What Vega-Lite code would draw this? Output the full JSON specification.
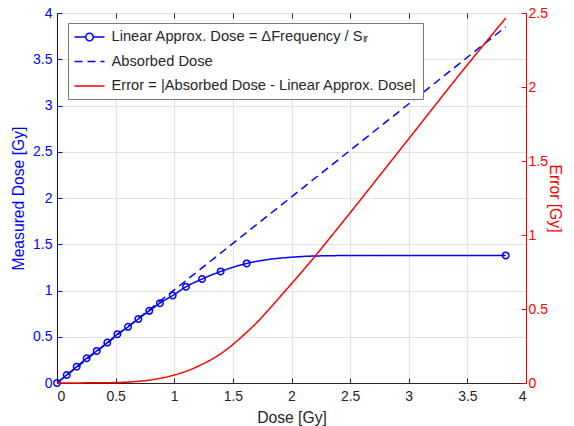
{
  "$schema": "https://vega.github.io/schema/vega-lite/v6.json",
  "width": 469,
  "height": 370,
  "autosize": {"type": "none"},
  "padding": {"left": 57, "top": 13, "right": 48, "bottom": 43},
  "background": "white",
  "config": {
    "font": "Liberation Sans",
    "view": {"stroke": "#8c8c8c", "strokeWidth": 1},
    "axis": {
      "gridColor": "#e2e2e2",
      "gridOpacity": 1,
      "labelFont": "Liberation Sans",
      "labelFontSize": 14,
      "titleFont": "Liberation Sans",
      "titleFontSize": 15.7,
      "titleFontWeight": "normal",
      "tickSize": -5,
      "domainWidth": 1,
      "labelPadding": 10
    }
  },
  "datasets": {
    "approx_line": [
      {"x": 0, "y": 0, "s": "approx"},
      {"x": 0.083, "y": 0.087, "s": "approx"},
      {"x": 0.168, "y": 0.177, "s": "approx"},
      {"x": 0.253, "y": 0.268, "s": "approx"},
      {"x": 0.339, "y": 0.347, "s": "approx"},
      {"x": 0.429, "y": 0.437, "s": "approx"},
      {"x": 0.515, "y": 0.528, "s": "approx"},
      {"x": 0.606, "y": 0.607, "s": "approx"},
      {"x": 0.694, "y": 0.693, "s": "approx"},
      {"x": 0.787, "y": 0.78, "s": "approx"},
      {"x": 0.878, "y": 0.863, "s": "approx"},
      {"x": 0.987, "y": 0.946, "s": "approx"},
      {"x": 1.1, "y": 1.04, "s": "approx"},
      {"x": 1.237, "y": 1.124, "s": "approx"},
      {"x": 1.396, "y": 1.206, "s": "approx"},
      {"x": 1.618, "y": 1.293, "s": "approx"},
      {"x": 1.8, "y": 1.335, "s": "approx"},
      {"x": 2.0, "y": 1.36, "s": "approx"},
      {"x": 2.2, "y": 1.373, "s": "approx"},
      {"x": 2.5, "y": 1.378, "s": "approx"},
      {"x": 3.0, "y": 1.379, "s": "approx"},
      {"x": 3.827, "y": 1.379, "s": "approx"}
    ],
    "markers": [
      {"x": 0, "y": 0},
      {"x": 0.083, "y": 0.087},
      {"x": 0.168, "y": 0.177},
      {"x": 0.253, "y": 0.268},
      {"x": 0.339, "y": 0.347},
      {"x": 0.429, "y": 0.437},
      {"x": 0.515, "y": 0.528},
      {"x": 0.606, "y": 0.607},
      {"x": 0.694, "y": 0.693},
      {"x": 0.787, "y": 0.78},
      {"x": 0.878, "y": 0.863},
      {"x": 0.987, "y": 0.946},
      {"x": 1.1, "y": 1.04},
      {"x": 1.237, "y": 1.124},
      {"x": 1.396, "y": 1.206},
      {"x": 1.618, "y": 1.293},
      {"x": 3.827, "y": 1.379}
    ],
    "absorbed": [
      {"x": 0, "y": 0, "s": "absorbed"},
      {"x": 3.827, "y": 3.85, "s": "absorbed"}
    ],
    "error": [
      {"x": 0, "y": 0, "s": "error"},
      {"x": 0.25, "y": 0.001, "s": "error"},
      {"x": 0.5, "y": 0.003, "s": "error"},
      {"x": 0.6, "y": 0.006, "s": "error"},
      {"x": 0.7, "y": 0.012, "s": "error"},
      {"x": 0.8, "y": 0.021, "s": "error"},
      {"x": 0.9, "y": 0.035, "s": "error"},
      {"x": 1.0, "y": 0.054, "s": "error"},
      {"x": 1.1, "y": 0.079, "s": "error"},
      {"x": 1.2, "y": 0.112, "s": "error"},
      {"x": 1.3, "y": 0.152, "s": "error"},
      {"x": 1.4, "y": 0.2, "s": "error"},
      {"x": 1.5, "y": 0.26, "s": "error"},
      {"x": 1.6, "y": 0.33, "s": "error"},
      {"x": 1.7, "y": 0.405, "s": "error"},
      {"x": 1.8, "y": 0.49, "s": "error"},
      {"x": 1.9, "y": 0.58, "s": "error"},
      {"x": 2.0, "y": 0.67, "s": "error"},
      {"x": 2.1, "y": 0.762, "s": "error"},
      {"x": 2.2, "y": 0.856, "s": "error"},
      {"x": 2.3, "y": 0.953, "s": "error"},
      {"x": 2.5, "y": 1.15, "s": "error"},
      {"x": 3.0, "y": 1.65, "s": "error"},
      {"x": 3.5, "y": 2.15, "s": "error"},
      {"x": 3.827, "y": 2.465, "s": "error"}
    ]
  },
  "layer": [
    {
      "encoding": {
        "x": {
          "field": "x",
          "type": "quantitative",
          "scale": {"domain": [0, 4], "nice": false},
          "axis": {
            "orient": "bottom",
            "values": [0, 0.5, 1, 1.5, 2, 2.5, 3, 3.5, 4],
            "labelExpr": "'' + datum.value",
            "title": "Dose [Gy]",
            "grid": true,
            "domainColor": "#262626",
            "tickColor": "#262626",
            "labelColor": "#262626",
            "titleColor": "#262626",
            "labelPadding": 11,
            "titlePadding": 7
          }
        },
        "y": {
          "field": "y",
          "type": "quantitative",
          "scale": {"domain": [0, 4], "nice": false},
          "axis": {
            "values": [0, 0.5, 1, 1.5, 2, 2.5, 3, 3.5, 4],
            "labelExpr": "'' + datum.value",
            "title": "Measured Dose [Gy]",
            "grid": true,
            "domainColor": "#0000ff",
            "tickColor": "#0000ff",
            "labelColor": "#0000ff",
            "titleColor": "#0000ff",
            "titlePadding": 6
          }
        }
      },
      "layer": [
        {
          "data": {"name": "approx_line"},
          "mark": {"type": "line", "interpolate": "monotone", "strokeWidth": 1.5},
          "encoding": {
            "color": {
              "field": "s", "type": "nominal",
              "scale": {"domain": ["approx", "absorbed", "error"], "range": ["#0000ff", "#0000ff", "#ff0000"]},
              "legend": {
                "title": null,
                "orient": "none",
                "legendX": 11,
                "legendY": 10,
                "fillColor": "white",
                "strokeColor": "#7a7a7a",
                "padding": 5.5,
                "symbolType": "stroke",
                "symbolSize": 225,
                "symbolStrokeWidth": 1.5,
                "symbolFillColor": "transparent",
                "labelFont": "Liberation Sans",
                "labelFontSize": 14.7,
                "labelColor": "#262626",
                "labelOffset": 21,
                "rowPadding": 8.5,
                "labelLimit": 400,
                "labelExpr": "datum.value == 'approx' ? 'Linear Approx. Dose = ΔFrequency / Sₗᵣ' : datum.value == 'absorbed' ? 'Absorbed Dose' : 'Error = |Absorbed Dose - Linear Approx. Dose|'",
                "encode": {
                  "symbols": {
                    "update": {
                      "shape": {"signal": "datum.value == 'approx' ? 'M-1,0H0.5M1.5,0H3M1.5,0A0.5,0.5,0,1,1,0.5,0A0.5,0.5,0,1,1,1.5,0' : 'M-1,0H3'"}
                    }
                  }
                }
              }
            },
            "strokeDash": {
              "field": "s", "type": "nominal",
              "scale": {"domain": ["approx", "absorbed", "error"], "range": [[1, 0], [8, 5], [1, 0]]},
              "legend": {
                "title": null,
                "orient": "none",
                "legendX": 11,
                "legendY": 10
              }
            }
          }
        },
        {
          "data": {"name": "absorbed"},
          "mark": {"type": "line", "strokeWidth": 1.5},
          "encoding": {
            "color": {"field": "s", "type": "nominal"},
            "strokeDash": {"field": "s", "type": "nominal"}
          }
        },
        {
          "data": {"name": "markers"},
          "mark": {"type": "point", "filled": false, "color": "#0000ff", "size": 42, "strokeWidth": 1.5, "opacity": 1},
          "encoding": {}
        }
      ]
    },
    {
      "data": {"name": "error"},
      "mark": {"type": "line", "interpolate": "monotone", "strokeWidth": 1.5},
      "encoding": {
        "x": {
          "field": "x",
          "type": "quantitative",
          "scale": {"domain": [0, 4], "nice": false},
          "axis": {
            "orient": "top",
            "values": [0, 0.5, 1, 1.5, 2, 2.5, 3, 3.5, 4],
            "labels": false,
            "title": null,
            "grid": false,
            "domain": false,
            "tickColor": "#262626"
          }
        },
        "y": {
          "field": "y",
          "type": "quantitative",
          "scale": {"domain": [0, 2.5], "nice": false},
          "axis": {
            "orient": "right",
            "values": [0, 0.5, 1, 1.5, 2, 2.5],
            "labelExpr": "'' + datum.value",
            "title": "Error [Gy]",
            "grid": false,
            "domainColor": "#ff0000",
            "tickColor": "#ff0000",
            "labelColor": "#ff0000",
            "titleColor": "#ff0000",
            "labelPadding": 7,
            "titlePadding": -1
          }
        },
        "color": {"field": "s", "type": "nominal"},
        "strokeDash": {"field": "s", "type": "nominal"}
      }
    }
  ],
  "resolve": {"scale": {"y": "independent", "x": "independent"}}
}
